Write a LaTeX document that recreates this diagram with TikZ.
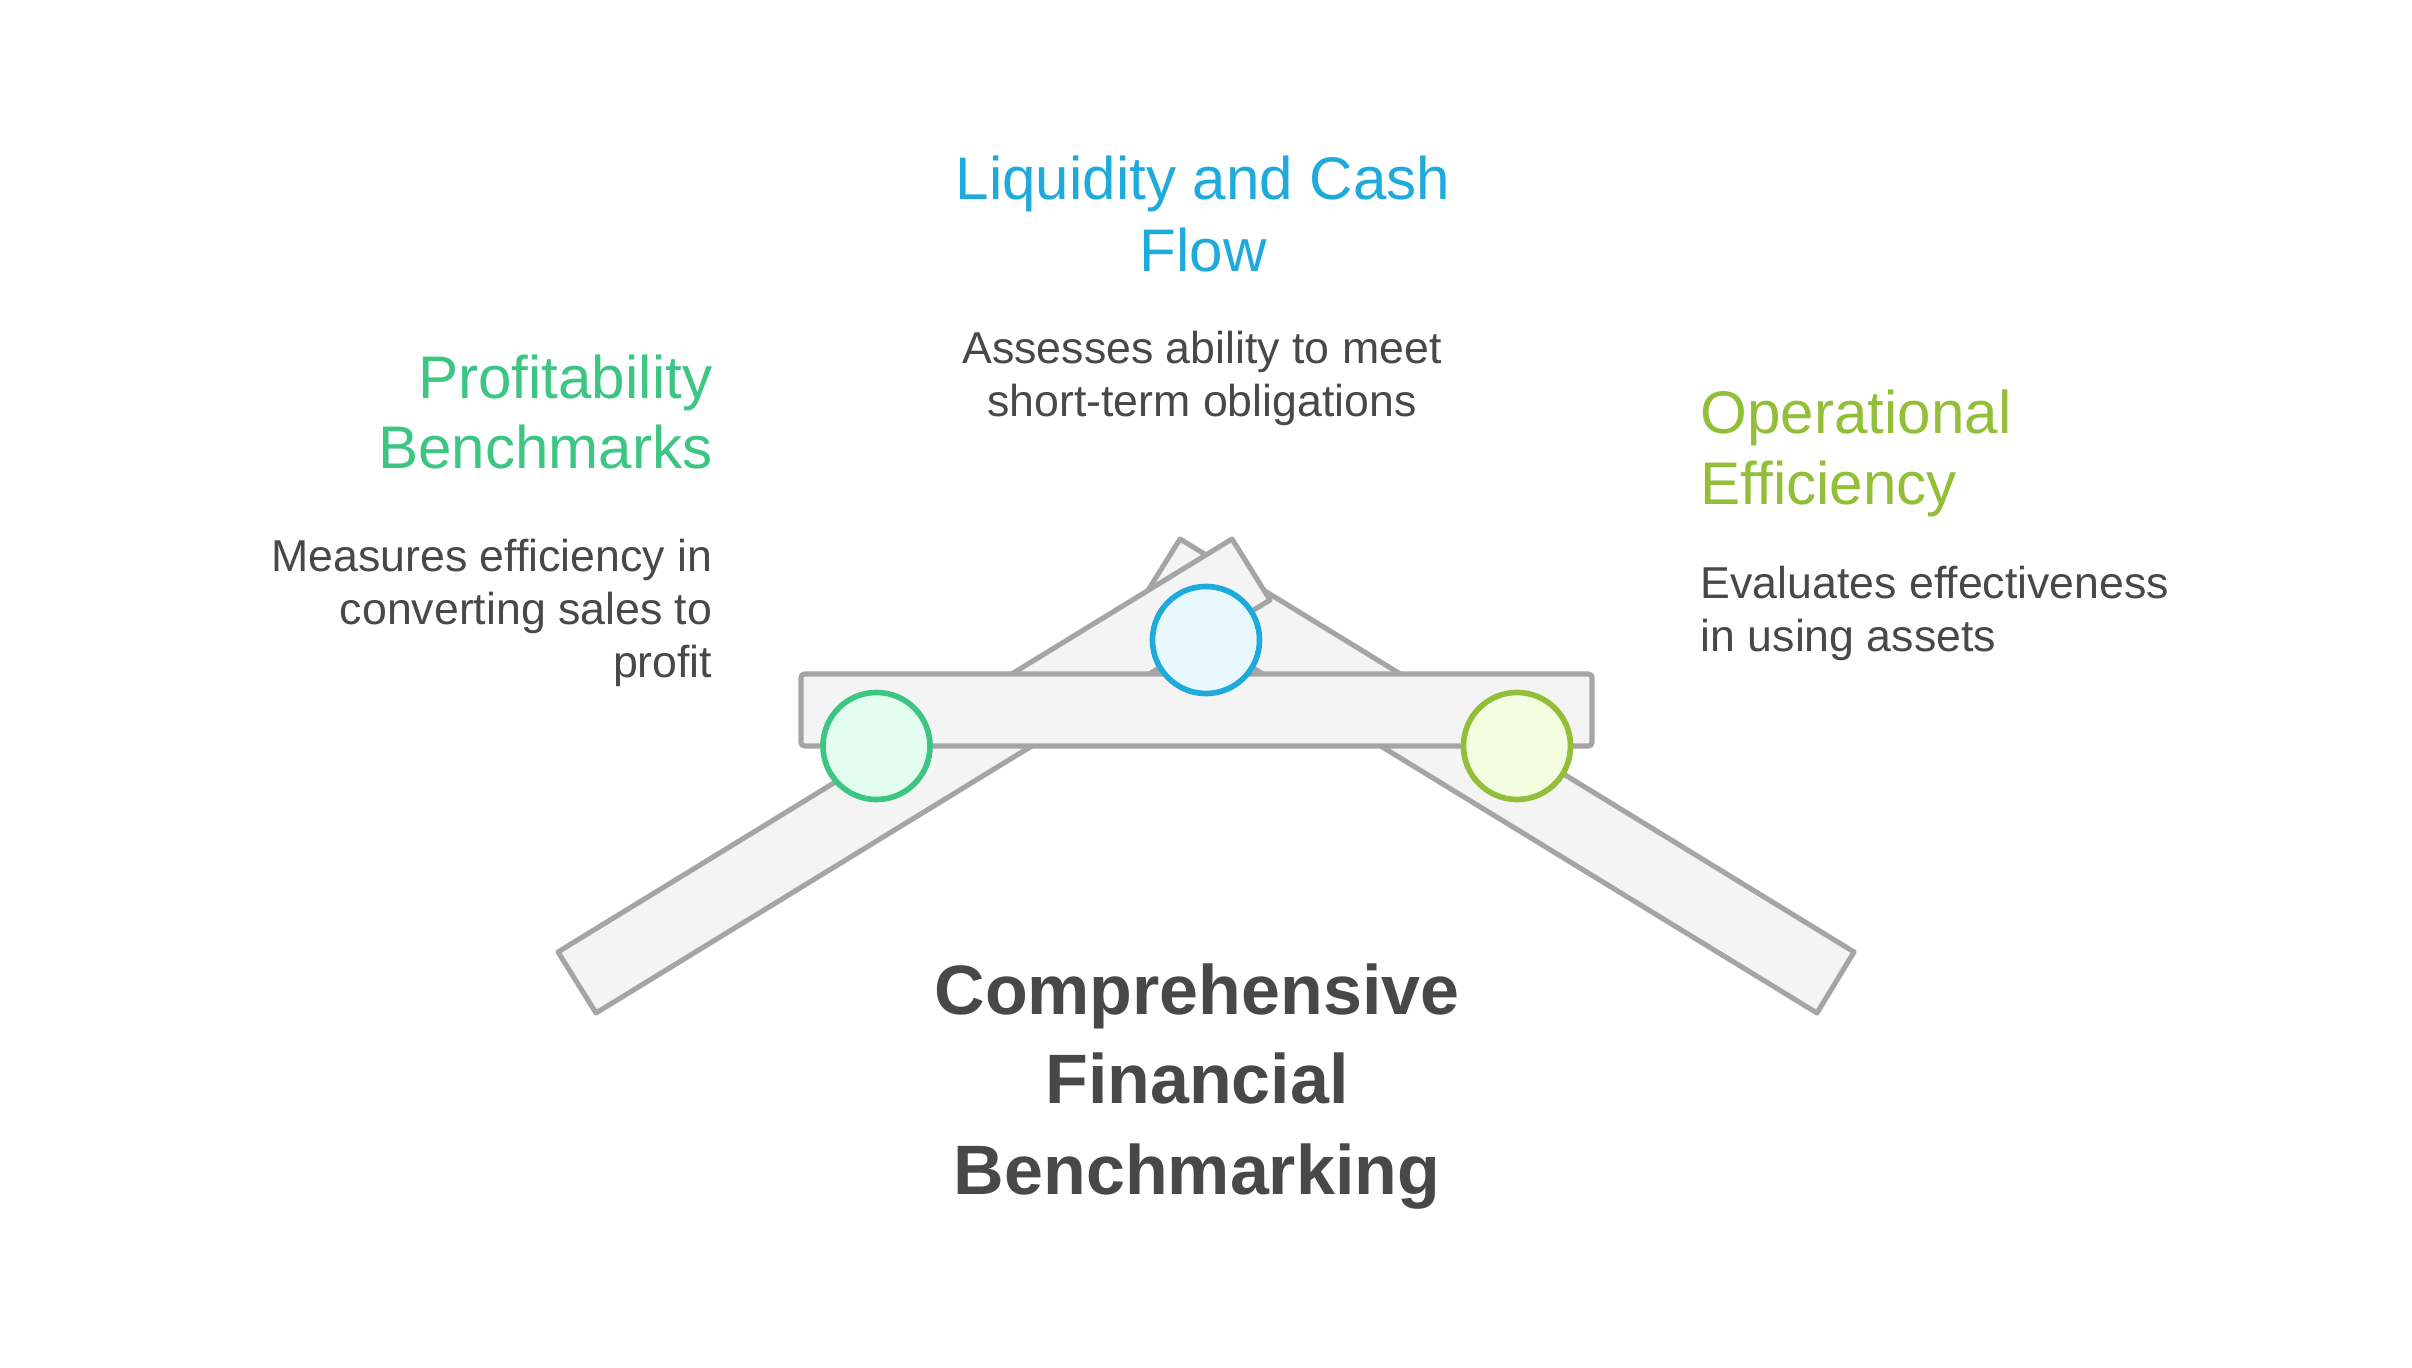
\documentclass[tikz,border=0pt]{standalone}
\usepackage{fontspec}
\setmainfont{Liberation Sans}
\definecolor{barline}{HTML}{A5A5A5}
\definecolor{barfill}{HTML}{F4F4F4}
\definecolor{txtdark}{HTML}{484848}
\definecolor{cgreen}{HTML}{3CC583}
\definecolor{cgreenfill}{HTML}{E2FCEF}
\definecolor{cblue}{HTML}{1EAADC}
\definecolor{cbluefill}{HTML}{E8F8FD}
\definecolor{colive}{HTML}{92BE38}
\definecolor{colivefill}{HTML}{F3FDE0}
\tikzset{
  barshape/.style={draw=barline, fill=barfill, line width=1.45pt, line join=round},
  dot/.style={circle, line width=1.6pt, minimum size=30.4mm, inner sep=0pt},
  ttl/.style={inner sep=0pt, font=\fontsize{17.1pt}{20pt}\selectfont},
  desc/.style={inner sep=0pt, text=txtdark, font=\fontsize{12.7pt}{15.2pt}\selectfont},
  maintitle/.style={inner sep=0pt, text=txtdark, font=\fontsize{19.9pt}{25.6pt}\selectfont\bfseries},
}
\begin{document}
\begin{tikzpicture}[x=0.01cm, y=-0.01cm]
\path[use as bounding box, fill=white] (0,0) rectangle (2412,1368);
% angled bars
\draw[barshape] (1180,539) -- (1854,952) -- (1817,1013) -- (1142,600) -- cycle;
\draw[barshape] (1232,539) -- (1270,600) -- (596,1013) -- (558,952) -- cycle;
% horizontal bar
\draw[barshape, rounded corners=1pt] (801,674) rectangle (1592,746);
% circles
\node[dot, draw=cgreen, fill=cgreenfill, minimum size=1.07cm] (cl) at (876.5,746) {};
\node[dot, draw=cblue, fill=cbluefill, minimum size=1.07cm] (cm) at (1206,640) {};
\node[dot, draw=colive, fill=colivefill, minimum size=1.07cm] (cr) at (1517,746) {};
% Profitability
\node[ttl, text=cgreen, anchor=base east] (p1) at (713,399) {Profitability};
\node[ttl, text=cgreen, anchor=base east] (p2) at (713,468.5) {Benchmarks};
\node[desc, anchor=base east] (pd1) at (713,571.7) {Measures efficiency in};
\node[desc, anchor=base east] (pd2) at (713,625) {converting sales to};
\node[desc, anchor=base east] (pd3) at (713,678) {profit};
% Liquidity
\node[ttl, text=cblue, anchor=base] (l1) at (1203,200) {Liquidity and Cash};
\node[ttl, text=cblue, anchor=base] (l2) at (1203,271.7) {Flow};
\node[desc, anchor=base] (ld1) at (1202,363.3) {Assesses ability to meet};
\node[desc, anchor=base] (ld2) at (1202,416.7) {short-term obligations};
% Operational
\node[ttl, text=colive, anchor=base west] (o1) at (1700,434) {Operational};
\node[ttl, text=colive, anchor=base west] (o2) at (1700,505) {Efficiency};
\node[desc, anchor=base west] (od1) at (1700,598.3) {Evaluates effectiveness};
\node[desc, anchor=base west] (od2) at (1700,651.7) {in using assets};
% main title
\node[maintitle, anchor=base] (m1) at (1197,1015) {Comprehensive};
\node[maintitle, anchor=base] (m2) at (1197,1104) {Financial};
\node[maintitle, anchor=base] (m3) at (1197,1195) {Benchmarking};
\end{tikzpicture}
\end{document}
